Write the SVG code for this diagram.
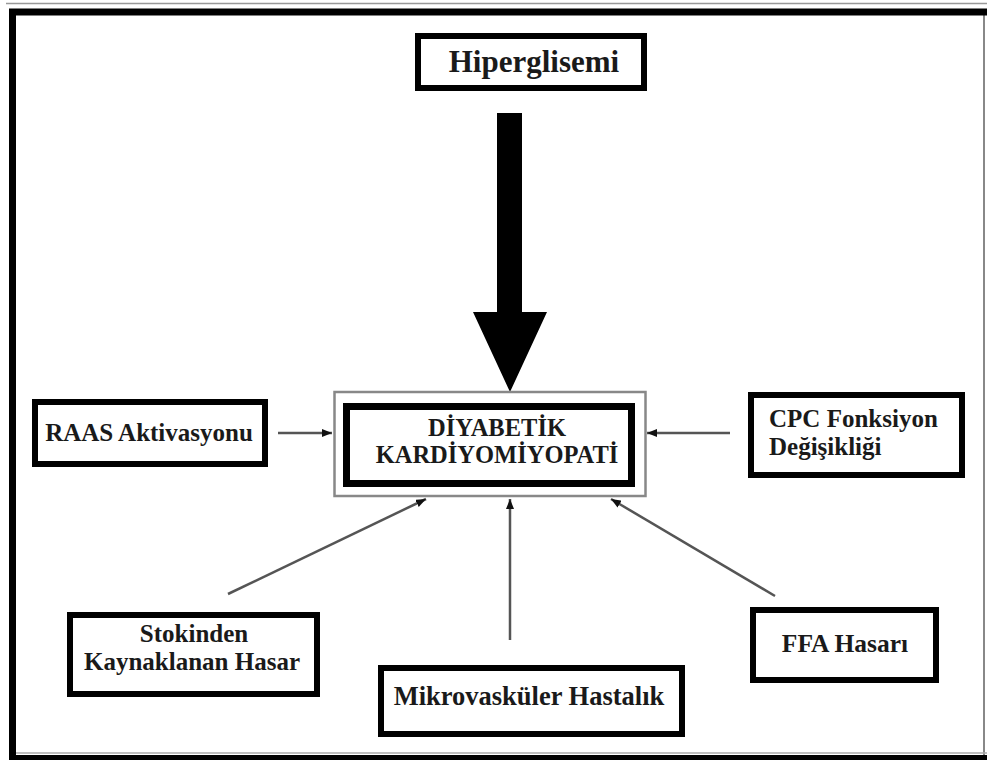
<svg xmlns="http://www.w3.org/2000/svg" width="987" height="762" viewBox="0 0 987 762">
  <defs>
    <marker id="tip" viewBox="0 0 10 8" refX="10" refY="4" markerWidth="10" markerHeight="8" markerUnits="userSpaceOnUse" orient="auto">
      <path d="M0,0 L10,4 L0,8 Z" fill="#111"/>
    </marker>
  </defs>
  <style>
    .box { fill: #fff; stroke: #000; stroke-width: 6; }
    .lbl { font-family: "Liberation Serif", "Times New Roman", serif; font-weight: bold; fill: #1a1a1a; }
    .link { stroke: #555; stroke-width: 2.5; fill: none; marker-end: url(#tip); }
  </style>

  <!-- page frame -->
  <rect width="987" height="762" fill="#fff"/>
  <line x1="6" y1="3.5" x2="987" y2="3.5" stroke="#999" stroke-width="1.5"/>
  <line x1="984" y1="12" x2="984" y2="757" stroke="#888" stroke-width="2"/>
  <line x1="12" y1="753" x2="987" y2="753" stroke="#aaa" stroke-width="1.5"/>
  <path d="M12.5,760 L12.5,12 L987,12" fill="none" stroke="#000" stroke-width="7"/>
  <line x1="9" y1="757.5" x2="987" y2="757.5" stroke="#000" stroke-width="5"/>

  <!-- connectors -->
  <g id="connectors">
    <polygon id="main-arrow" points="497,113 522,113 522,312 547,312 510,392 473,312 497,312" fill="#000"/>
    <line class="link" x1="278" y1="433" x2="332" y2="433"/>
    <line class="link" x1="730" y1="433" x2="647" y2="433"/>
    <line class="link" x1="228" y1="594" x2="426" y2="499"/>
    <line class="link" x1="510" y1="640" x2="510" y2="499"/>
    <line class="link" x1="775" y1="596" x2="611" y2="499"/>
  </g>

  <g id="hiperglisemi">
    <rect class="box" x="418" y="36" width="226" height="52"/>
    <text class="lbl" x="534" y="72" font-size="31" text-anchor="middle">Hiperglisemi</text>
  </g>

  <g id="diyabetik-kardiyomiyopati">
    <rect x="334.5" y="392" width="311" height="104" fill="#fff" stroke="#888" stroke-width="2.5"/>
    <rect x="346.5" y="406.5" width="285" height="77" fill="#fff" stroke="#000" stroke-width="7"/>
    <text class="lbl" x="497" y="436" font-size="24.5" text-anchor="middle">DİYABETİK</text>
    <text class="lbl" x="497" y="463" font-size="24.5" text-anchor="middle">KARDİYOMİYOPATİ</text>
  </g>

  <g id="raas">
    <rect class="box" x="35" y="402" width="230" height="62"/>
    <text class="lbl" x="149" y="441" font-size="25" text-anchor="middle">RAAS Aktivasyonu</text>
  </g>

  <g id="cpc">
    <rect class="box" x="751" y="395" width="211" height="80"/>
    <text class="lbl" x="769" y="427" font-size="25">CPC Fonksiyon</text>
    <text class="lbl" x="769" y="455" font-size="25">Değişikliği</text>
  </g>

  <g id="stokinden">
    <rect class="box" x="70" y="615" width="247" height="79"/>
    <text class="lbl" x="194" y="642" font-size="25" text-anchor="middle">Stokinden</text>
    <text class="lbl" x="192" y="670" font-size="25" text-anchor="middle">Kaynaklanan Hasar</text>
  </g>

  <g id="mikrovaskuler">
    <rect class="box" x="381" y="668" width="301" height="66"/>
    <text class="lbl" x="529" y="705" font-size="26.5" text-anchor="middle">Mikrovasküler Hastalık</text>
  </g>

  <g id="ffa">
    <rect class="box" x="753" y="610" width="183" height="70"/>
    <text class="lbl" x="845" y="652" font-size="25.5" text-anchor="middle">FFA Hasarı</text>
  </g>
</svg>
